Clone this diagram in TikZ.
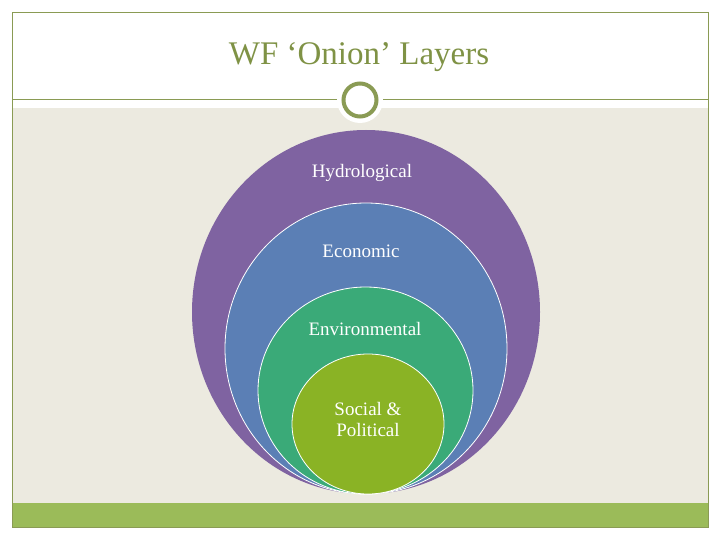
\documentclass[tikz,border=0pt]{standalone}
\usepackage{fontspec}
\setmainfont{Liberation Serif}
\definecolor{olive}{HTML}{8A9B54}
\definecolor{titlec}{HTML}{7F9245}
\definecolor{beige}{HTML}{ECEAE0}
\definecolor{barg}{HTML}{9BBB59}
\definecolor{cpurple}{HTML}{7F63A1}
\definecolor{cblue}{HTML}{5B7FB5}
\definecolor{cgreen}{HTML}{3AAA78}
\definecolor{clime}{HTML}{8AB325}
\tikzset{
  layer/.style={draw=white, line width=0.8pt},
  lbl/.style={text=white, font=\fontsize{19}{22}\selectfont, align=center},
}
\begin{document}
\begin{tikzpicture}[x=1pt,y=-1pt]
\useasboundingbox (0,0) rectangle (720,540);
\fill[white] (0,0) rectangle (720,540);
% beige panel
\fill[beige] (12,108) rectangle (708,503);
% bottom bar
\fill[barg] (12,503) rectangle (708,527);
% frame
\draw[olive, line width=0.8pt] (12,12) rectangle (708,527);
\draw[olive, line width=0.8pt] (12,99) -- (708,99);
% title
\node[text=titlec, font=\fontsize{33}{38}\selectfont] (title) at (359,57) {WF ‘Onion’ Layers};
% ornament
\fill[white] (360,100) circle (23);
\draw[olive, line width=4pt] (360,100) circle (16.5);
% layers
\fill[cpurple] (366,312) ellipse [x radius=174, y radius=182];
\draw[layer, fill=cblue] (366,348.5) ellipse [x radius=141, y radius=145.5];
\draw[layer, fill=cgreen] (365.5,390.5) ellipse [x radius=107.5, y radius=103.5];
\draw[layer, fill=clime] (368,424) ellipse [x radius=76, y radius=70];
% labels
\node[lbl] (hyd) at (362,173) {Hydrological};
\node[lbl] (eco) at (361,251) {Economic};
\node[lbl] (env) at (365,329) {Environmental};
\node[lbl, font=\fontsize{19}{21}\selectfont] (soc) at (368,419) {Social \&\\Political};
\end{tikzpicture}
\end{document}
